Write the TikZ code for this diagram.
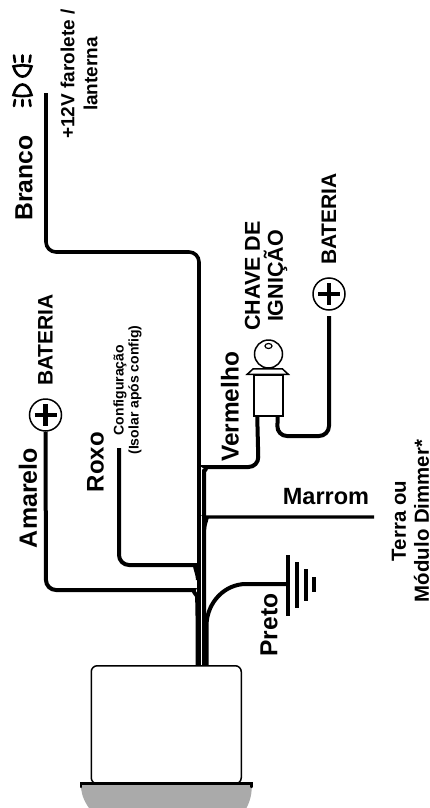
\documentclass[tikz,border=0pt]{standalone}
\usepackage{fontspec}
\setmainfont{Liberation Sans}
\usetikzlibrary{calc, shapes.geometric}
\tikzset{
	wire/.style={line width=4pt, rounded corners=10pt},
	lbl/.style={inner sep=0pt, align=center, font=\bfseries},
	vlbl/.style={lbl, rotate=90},
	bateria/.style={circle, draw, line width=1.5pt, minimum size=32pt, inner sep=0pt,
		path picture={
			\draw[line width=4.4pt] ($(path picture bounding box.center)+(-11,0)$) -- ($(path picture bounding box.center)+(11,0)$);
			\draw[line width=4.4pt] ($(path picture bounding box.center)+(0,-11)$) -- ($(path picture bounding box.center)+(0,11)$);
		}},
	lampada/.style={line width=2.6pt, line cap=round},
	terra/.style={line width=4pt},
}
\newcommand{\fs}[1]{\fontsize{#1}{#1}\selectfont}
\begin{document}
\begin{tikzpicture}[x=1pt, y=-1pt]
	\useasboundingbox (0,0) rectangle (430,808);

	\coordinate (Wb) at (46,93);
	\coordinate (Wx) at (119,448);
	\coordinate (Wm) at (374,517);
	\coordinate (Wc) at (329,316);

	\node[bateria] (plusA) at (45.5,415) {};
	\node[bateria] (plusB) at (329,294) {};

	% chave
	\node[draw, line width=1.5pt, minimum width=29pt, minimum height=41pt, inner sep=0pt] (corpo) at (268.5,395.5) {};
	\node[draw, circle, line width=1.5pt, minimum size=28pt, inner sep=0pt] (bola) at (268.5,354) {};
	\node[draw, ellipse, line width=1.2pt, minimum width=7pt, minimum height=5pt, inner sep=0pt] (furo) at (268.5,346) {};
	\draw[line width=1.5pt, fill=white] (corpo.north west) ++(-6,0) -- ++(6,-5.5) -- ++(29,0) -- ++(6,5.5) -- cycle;

	% plug
	\node[draw, line width=1.5pt, rounded corners=6pt, minimum width=150pt, minimum height=118pt, inner sep=0pt, anchor=north west] (plug) at (90.5,665) {};
	\fill[fill={rgb,255:red,170;green,170;blue,170}] (81,783) -- (251.5,783) .. controls (252.5,793) and (250,801) .. (246.5,808) -- (89,808) .. controls (84,801) and (80.5,793) .. (81,783) -- cycle;
	\draw[line width=2.4pt, line cap=round] (81,787) -- (81,783.5) -- (251.5,783.5) -- (251.5,787);

	% fios
	\draw[wire, line width=3.6pt] (Wb) -- (46,252) -- (199,252) -- (199,665);
	\draw[wire] (plusA.south) -- (46,590) -- (184,590) .. controls (192,590) and (197,596) .. (197.5,606) -- (197.5,665);
	\draw[wire] (Wx) -- (119,565) -- (186,565) .. controls (193,565) and (197.5,571) .. (198,580);
	\draw[wire] (corpo.south west) ++(4,0) -- (258.5,467) -- (215,467) .. controls (208,467) and (204,472) .. (204,481) -- (204,665);
	\draw[wire, line width=3.2pt] (Wm) -- (216,517) .. controls (209,517) and (205,521) .. (204.5,530);
	\draw[wire] (corpo.south east) ++(-6,0) -- (277,436) -- (329,436) -- (Wc);
	\draw[line width=4pt, line cap=butt] (287,584) -- (246,584) .. controls (225,584) and (207,602) .. (206.5,625) -- (206.5,665);

	% terra
	\draw[terra] (288,555) -- (288,616);
	\draw[terra] (296.5,562) -- (296.5,608);
	\draw[terra] (306,569) -- (306,601);
	\draw[terra] (314,577) -- (314,592);

	% lampada
	\draw[lampada] (13.5,66.5) .. controls (17,80) and (28,80) .. (31.5,66.5) .. controls (26,65) and (19,65) .. (13.5,66.5) -- cycle;
	\draw[lampada] (14,55.5) -- (15,62);
	\draw[lampada] (22.5,55.5) -- (22.5,62);
	\draw[lampada] (30.5,55.5) -- (29.5,62);
	\draw[lampada] (13.5,95) .. controls (17,81) and (28,81) .. (31.5,95) .. controls (26,96.5) and (19,96.5) .. (13.5,95) -- cycle;
	\draw[lampada] (14,106) -- (15,100);
	\draw[lampada] (22.5,106) -- (22.5,100);
	\draw[lampada] (30.5,106) -- (29.5,100);

	% textos
	\node[vlbl, font=\bfseries\fs{24.7}] (branco) at (24,178) {Branco};
	\node[vlbl, font=\bfseries\fs{19}, execute at begin node={\baselineskip=23pt}] (farol) at (79,74) {+12V farolete /\\lanterna};
	\node[vlbl, font=\bfseries\fs{25}] (amarelo) at (28,498) {Amarelo};
	\node[vlbl, font=\bfseries\fs{21}] (batA) at (45.5,340) {BATERIA};
	\node[vlbl, font=\bfseries\fs{24}] (roxo) at (95.5,462) {Roxo};
	\node[vlbl, font=\bfseries\fs{14}, execute at begin node={\baselineskip=15pt}] (config) at (127.5,390) {Configuração\\(Isolar após config)};
	\node[vlbl, font=\bfseries\fs{24.4}] (vermelho) at (230,407) {Vermelho};
	\node[vlbl, font=\bfseries\fs{21.5}, execute at begin node={\baselineskip=23pt}] (ignicao) at (266,276) {CHAVE DE\\IGNIÇÃO};
	\node[vlbl, font=\bfseries\fs{21}] (batB) at (329,219) {BATERIA};
	\node[lbl, font=\bfseries\fs{23.5}] (marrom) at (326,497) {Marrom};
	\node[vlbl, font=\bfseries\fs{24.6}] (preto) at (269,625) {Preto};
	\node[vlbl, font=\bfseries\fs{20.4}, execute at begin node={\baselineskip=23pt}] (dimmer) at (410.5,521) {Terra ou\\Módulo Dimmer*};
\end{tikzpicture}
\end{document}
